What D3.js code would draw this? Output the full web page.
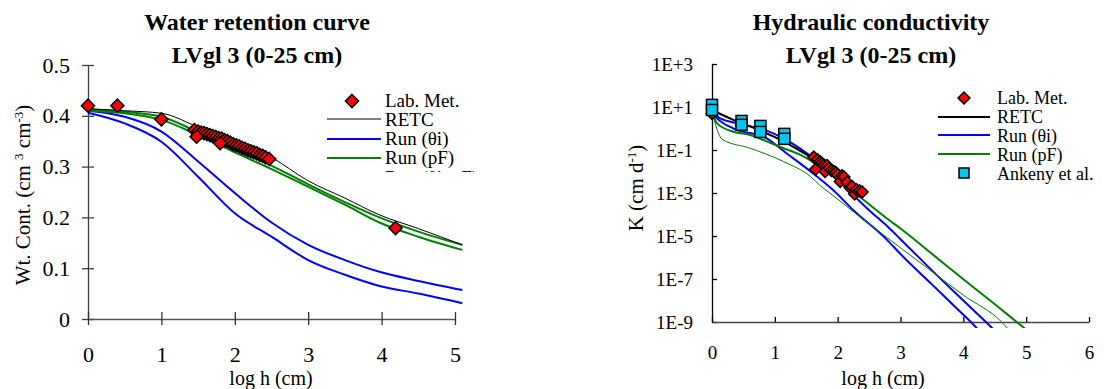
<!DOCTYPE html>
<html><head><meta charset="utf-8">
<script src="https://cdn.jsdelivr.net/npm/d3@7"></script>
<style>
body{margin:0;background:#fff;}
svg{display:block;}
svg text{font-family:"Liberation Serif";}
</style></head>
<body>
<svg id="chart" width="1120" height="389"></svg>
<script>
// ---------- Left chart: water retention (x = log h, y = theta) ----------
const wrLabX = [0,0.4,1.0,1.45,1.5,1.54,1.58,1.62,1.66,1.7,1.74,1.78,1.82,1.86,1.9,1.94,1.98,2.02,2.06,2.1,2.14,2.18,2.22,2.26,2.3,2.34,2.38,2.42,2.47,1.48,1.8,4.19];
const wrLabY = [0.42,0.42,0.393,0.372,0.369,0.367,0.366,0.364,0.362,0.36,0.358,0.356,0.355,0.352,0.35,0.347,0.344,0.342,0.34,0.337,0.335,0.332,0.33,0.328,0.326,0.323,0.321,0.318,0.315,0.359,0.346,0.179];
const wrX = [0,0.5,1,1.5,2,2.5,3,3.5,3.97,4.5,5.1];
const wrRETC = [0.414,0.41,0.405,0.378,0.35,0.318,0.272,0.238,0.205,0.178,0.146];
const wrPF1 = [0.413,0.408,0.398,0.368,0.335,0.302,0.265,0.23,0.2,0.172,0.146];
const wrPF2 = [0.41,0.405,0.392,0.362,0.328,0.295,0.26,0.225,0.19,0.162,0.136];
const wrTh1 = [0.41,0.398,0.369,0.31,0.248,0.19,0.146,0.116,0.093,0.075,0.057];
const wrTh2 = [0.406,0.385,0.349,0.28,0.208,0.162,0.116,0.087,0.065,0.05,0.031];
const wrYTicks = [0,0.1,0.2,0.3,0.4,0.5];
const wrXTicks = [0,1,2,3,4,5];

// ---------- Right chart: hydraulic conductivity (x = log h, y = log10 K) ----------
const kLabX = [0,1.62,1.65,1.68,1.72,1.75,1.78,1.8,1.83,1.86,1.9,1.94,1.97,2.0,2.04,2.07,2.1,2.15,2.2,2.23,2.27,2.3,2.35,2.39];
const kLabL = [0.7,-1.33,-1.9,-1.45,-1.55,-1.62,-1.7,-2.0,-1.72,-1.85,-1.95,-2.0,-2.05,-2.15,-2.47,-2.2,-2.25,-2.5,-2.75,-2.7,-3.05,-2.85,-2.9,-2.95];
const ankX = [0,0,0.47,0.47,0.77,0.77,1.15,1.15];
const ankL = [1.1,0.86,0.35,0.17,0.12,-0.16,-0.25,-0.48];
const kRetcX = [0,0.34,0.77,1.14,1.41,1.7,2.0,2.4];
const kRetcL = [0.86,0.4,-0.1,-0.6,-1.05,-1.55,-2.15,-2.95];
const kTh1X = [0,0.13,0.45,0.87,1.14,1.41,1.7,2.0,2.25,2.5,2.79,3.0,3.26,3.5,4.0,4.36,4.5];
const kTh1L = [0.78,0.47,0.22,-0.1,-0.46,-0.95,-1.6,-2.4,-3.1,-3.8,-4.55,-5.15,-5.9,-6.6,-8.0,-9.0,-9.4];
const kTh2X = [0,0.08,0.34,0.87,1.19,1.57,1.94,2.25,2.79,3.0,3.5,4.0,4.12,4.25];
const kTh2L = [0.75,0.47,0.0,-0.46,-1.16,-2.0,-2.9,-3.8,-5.19,-5.84,-7.25,-8.66,-9.0,-9.4];
const kPF1X = [0,0.08,0.34,0.61,0.87,1.14,1.41,1.8,2.36,2.79,3.0,3.53,4.06,4.59,4.85,5.0];
const kPF1L = [0.8,0.24,-0.15,-0.3,-0.6,-0.92,-1.23,-1.95,-3.2,-4.2,-4.65,-5.9,-7.15,-8.38,-9.0,-9.35];
const kPF2X = [0,0.16,0.61,1.14,1.57,1.72,1.94,2.25,3.0,3.5,4.0,4.61,4.72];
const kPF2L = [0.8,-0.5,-0.92,-1.54,-2.24,-2.65,-3.15,-3.87,-5.55,-6.65,-7.75,-9.0,-9.35];
const kYTicks = [1e3,1e1,1e-1,1e-3,1e-5,1e-7,1e-9];
const kYLabels = ["1E+3","1E+1","1E-1","1E-3","1E-5","1E-7","1E-9"];
const kXTicks = [0,1,2,3,4,5,6];

const legendLeft = ["Lab. Met.","RETC","Run (θi)","Run (pF)","Run (θi, pF)"];
const legendRight = ["Lab. Met.","RETC","Run (θi)","Run (pF)","Ankeny et al."];

const FONT = "Liberation Serif";
const RED = "#ff0000", BLUE = "#0000ff", GREEN = "#008000", CYAN = "#00c8f0";
const svg = d3.select("#chart");
const defs = svg.append("defs");

// ================= LEFT =================
const xL = d3.scaleLinear().domain([0,5]).range([88,455]);
const yL = d3.scaleLinear().domain([0,0.5]).range([319,65]);
defs.append("clipPath").attr("id","clipL").append("rect").attr("x",80).attr("y",60).attr("width",384).attr("height",262);

const gL = svg.append("g");
gL.append("text").attr("x",257).attr("y",30).attr("text-anchor","middle").attr("font-weight","bold").attr("font-size",24).text("Water retention curve");
gL.append("text").attr("x",257).attr("y",63).attr("text-anchor","middle").attr("font-weight","bold").attr("font-size",24).text("LVgl 3 (0-25 cm)");

const axYL = gL.append("g").attr("transform",`translate(${xL(0)},0)`)
  .call(d3.axisLeft(yL).tickValues(wrYTicks).tickSize(0).tickFormat(d=>d3.format("")(d)));
axYL.attr("font-family",FONT);
axYL.select(".domain").attr("stroke","#404040").attr("stroke-width",1.3);
axYL.selectAll(".tick text").attr("x",-18).attr("font-size",22).attr("fill","#000");
axYL.selectAll(".tick").append("line").attr("x1",-6).attr("x2",6).attr("stroke","#404040").attr("stroke-width",1.3);

const axXL = gL.append("g").attr("transform",`translate(0,${yL(0)})`)
  .call(d3.axisBottom(xL).tickValues(wrXTicks).tickSize(0).tickFormat(d3.format("d")));
axXL.attr("font-family",FONT);
axXL.select(".domain").attr("stroke","#555").attr("stroke-width",1.3);
axXL.selectAll(".tick text").attr("y",27).attr("font-size",22).attr("fill","#000");
axXL.selectAll(".tick").append("line").attr("y1",-7).attr("y2",6).attr("stroke","#333").attr("stroke-width",1.3);

gL.append("text").attr("x",271).attr("y",385).attr("text-anchor","middle").attr("font-size",20).text("log h (cm)");
const yTitleL = gL.append("text").attr("transform","translate(30,195) rotate(-90)").attr("text-anchor","middle").attr("font-size",21);
yTitleL.append("tspan").text("Wt. Cont. (cm ");
yTitleL.append("tspan").attr("dy",-7).attr("font-size",13).text("3");
yTitleL.append("tspan").attr("dy",7).text(" cm");
yTitleL.append("tspan").attr("dy",-7).attr("font-size",13).text("-3");
yTitleL.append("tspan").attr("dy",7).text(")");

const lineL = d3.line().x(d=>xL(d[0])).y(d=>yL(d[1])).curve(d3.curveMonotoneX);
const plotL = gL.append("g").attr("clip-path","url(#clipL)");
[[wrTh1,BLUE,2],[wrTh2,BLUE,2],[wrPF1,GREEN,2],[wrPF2,GREEN,2],[wrRETC,"#000",1]].forEach(([ys,c,w])=>{
  plotL.append("path").attr("d",lineL(wrX.map((x,i)=>[x,ys[i]]))).attr("fill","none").attr("stroke",c).attr("stroke-width",w);
});
const diamond = d3.symbol().type(d3.symbolDiamond2);
plotL.selectAll(".dL").data(wrLabX.map((x,i)=>[x,wrLabY[i]])).join("path")
  .attr("d",diamond.size(110)()).attr("transform",d=>`translate(${xL(d[0])},${yL(d[1])})`)
  .attr("fill",RED).attr("stroke","#000").attr("stroke-width",1.5);

defs.append("clipPath").attr("id","clipLegL").append("rect").attr("x",320).attr("y",85).attr("width",160).attr("height",87);
const legL = gL.append("g").attr("clip-path","url(#clipLegL)");
const lbL = [107,126,145,164,184];
legendLeft.forEach((t,i)=>{
  legL.append("text").attr("x",385).attr("y",lbL[i]).attr("font-size",19).text(t);
});
legL.append("path").attr("d",diamond.size(110)()).attr("transform","translate(352,101)").attr("fill",RED).attr("stroke","#000").attr("stroke-width",1.5);
[[119,"#000",1],[139,BLUE,2],[158,GREEN,2]].forEach(([y,c,w])=>{
  legL.append("line").attr("x1",327).attr("x2",381).attr("y1",y).attr("y2",y).attr("stroke",c).attr("stroke-width",w);
});

// ================= RIGHT =================
const xR = d3.scaleLinear().domain([0,6]).range([712,1089]);
const yR = d3.scaleLog().domain([1e-9,1e3]).range([322,64]);
defs.append("clipPath").attr("id","clipR").append("rect").attr("x",705).attr("y",60).attr("width",390).attr("height",268);
const gR = svg.append("g");
gR.append("text").attr("x",871).attr("y",30).attr("text-anchor","middle").attr("font-weight","bold").attr("font-size",24).text("Hydraulic conductivity");
gR.append("text").attr("x",871).attr("y",63).attr("text-anchor","middle").attr("font-weight","bold").attr("font-size",24).text("LVgl 3 (0-25 cm)");

const axYR = gR.append("g").attr("transform",`translate(${xR(0)},0)`)
  .call(d3.axisLeft(yR).tickValues(kYTicks).tickSize(0).tickFormat((d,i)=>kYLabels[i]));
axYR.attr("font-family",FONT);
axYR.select(".domain").attr("stroke","#000").attr("stroke-width",1.3);
axYR.selectAll(".tick text").attr("x",-19).attr("font-size",19).attr("fill","#000");
axYR.selectAll(".tick").append("line").attr("x1",0).attr("x2",5).attr("stroke","#000").attr("stroke-width",1.3);

const axXR = gR.append("g").attr("transform",`translate(0,${yR(1e-9)})`)
  .call(d3.axisBottom(xR).tickValues(kXTicks).tickSize(0).tickFormat(d3.format("d")));
axXR.attr("font-family",FONT);
axXR.select(".domain").attr("stroke","#444").attr("stroke-width",1.3);
axXR.selectAll(".tick text").attr("y",24).attr("font-size",19).attr("fill","#000");
axXR.selectAll(".tick").append("line").attr("y1",-5).attr("y2",0).attr("stroke","#000").attr("stroke-width",1.3);

gR.append("text").attr("x",883).attr("y",385).attr("text-anchor","middle").attr("font-size",20).text("log h (cm)");
const yTitleR = gR.append("text").attr("transform","translate(643,188) rotate(-90)").attr("text-anchor","middle").attr("font-size",21);
yTitleR.append("tspan").text("K (cm d");
yTitleR.append("tspan").attr("dy",-7).attr("font-size",13).text("-1");
yTitleR.append("tspan").attr("dy",7).text(")");

const lineR = d3.line().x(d=>xR(d[0])).y(d=>yR(Math.pow(10,d[1]))).curve(d3.curveMonotoneX);
const plotR = gR.append("g").attr("clip-path","url(#clipR)");
[[kTh1X,kTh1L,BLUE,2],[kTh2X,kTh2L,BLUE,2],[kPF1X,kPF1L,GREEN,2],[kPF2X,kPF2L,GREEN,1],[kRetcX,kRetcL,"#000",2]].forEach(([xs,ls,c,w])=>{
  plotR.append("path").attr("d",lineR(xs.map((x,i)=>[x,ls[i]]))).attr("fill","none").attr("stroke",c).attr("stroke-width",w);
});
plotR.selectAll(".dR").data(kLabX.map((x,i)=>[x,kLabL[i]])).join("path")
  .attr("d",diamond.size(90)()).attr("transform",d=>`translate(${xR(d[0])},${yR(Math.pow(10,d[1]))})`)
  .attr("fill",RED).attr("stroke","#000").attr("stroke-width",1.5);
plotR.selectAll(".sq").data(ankX.map((x,i)=>[x,ankL[i]])).join("rect")
  .attr("x",d=>xR(d[0])-5.5).attr("y",d=>yR(Math.pow(10,d[1]))-5.5).attr("width",11).attr("height",11)
  .attr("fill",CYAN).attr("stroke","#000").attr("stroke-width",1.5);

const lbR = [104,123,141.5,160.5,179.5];
legendRight.forEach((t,i)=>{
  gR.append("text").attr("x",997).attr("y",lbR[i]).attr("font-size",18).text(t);
});
gR.append("path").attr("d",diamond.size(90)()).attr("transform","translate(964,98)").attr("fill",RED).attr("stroke","#000").attr("stroke-width",1.5);
[[117,"#000"],[135,BLUE],[154,GREEN]].forEach(([y,c])=>{
  gR.append("line").attr("x1",938).attr("x2",990).attr("y1",y).attr("y2",y).attr("stroke",c).attr("stroke-width",2);
});
gR.append("rect").attr("x",959).attr("y",168).attr("width",10).attr("height",10).attr("fill",CYAN).attr("stroke","#000").attr("stroke-width",1.5);

svg.selectAll("text").attr("font-family",FONT);
</script>
</body></html>
